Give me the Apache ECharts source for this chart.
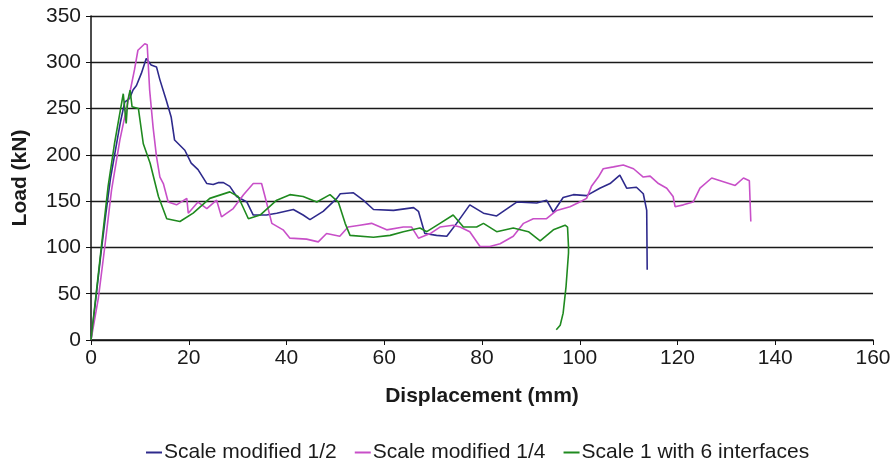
<!DOCTYPE html>
<html>
<head>
<meta charset="utf-8">
<script src="https://cdn.jsdelivr.net/npm/echarts@6/dist/echarts.min.js"></script>
<style>
    html, body { margin: 0; padding: 0; background: #fff; }
    #chart { width: 894px; height: 462px; }
</style>
</head>
<body>
<div id="chart"></div>
<script>
    // values
    var seriesNames = ['Scale modified 1/2', 'Scale modified 1/4', 'Scale 1 with 6 interfaces'];

    var halfX = [0, 1, 2, 3, 4, 5, 6, 6.9, 7.9, 8.6, 9.3, 10.3, 11.3, 12.3, 13.4, 14.1, 15.4, 16.4, 17.1, 19.2, 20.5, 21.9, 23.7, 25, 26, 27.1, 28.4, 29.8, 31.9, 33.2, 35.9, 38, 41.4, 43.4, 44.8, 47.5, 50.3, 51, 53.7, 55.7, 57.8, 61.9, 66, 67, 68.3, 70.7, 72.8, 74.8, 77.5, 80.3, 83, 87.1, 91.2, 93.2, 94.6, 96.6, 98.7, 101.4, 104.1, 106.2, 108.2, 109.6, 111.6, 113, 113.7, 113.8];
    var halfY = [0, 45, 92, 135, 175, 205, 235, 257, 261, 270, 275, 288, 304, 297, 295, 281, 259, 241, 216, 205, 191, 184, 169, 168, 170, 170, 166, 155, 149, 135, 135, 137, 141, 135, 130, 139, 153, 158, 159, 151, 141, 140, 143, 139, 115, 113, 112, 126, 146, 137, 134, 149, 148, 151, 138, 154, 157, 156, 164, 169, 178, 164, 165, 158, 140, 76];

    var quarterX = [0, 1.5, 2.9, 4.2, 5.9, 7.9, 8.9, 9.6, 11, 11.5, 11.7, 12, 12.7, 13.4, 14.1, 14.8, 15.8, 17.5, 19.6, 19.9, 21.9, 23.7, 25.7, 26.7, 29.1, 31.2, 33.2, 34.9, 35.6, 37, 39.3, 40.7, 44.1, 46.5, 48.2, 50.9, 52.6, 55, 57.4, 60.5, 63.9, 65.6, 67, 69.4, 71.4, 74.1, 75.5, 77.5, 79.6, 81.6, 83.7, 86.4, 88.5, 90.5, 93.2, 95.3, 98, 100, 101.4, 102.4, 103.8, 104.8, 106.9, 108.9, 111, 113, 114.4, 116.1, 117.8, 119.1, 119.5, 121.2, 123.2, 124.6, 127, 129.4, 131.8, 133.5, 134.7, 135];
    var quarterY = [0, 45, 104, 162, 216, 266, 292, 313, 320, 319, 299, 270, 230, 198, 176, 169, 149, 146, 153, 137, 149, 142, 151, 133, 142, 157, 169, 169, 155, 126, 119, 110, 109, 106, 115, 112, 122, 124, 126, 119, 122, 122, 110, 115, 122, 124, 122, 117, 101, 101, 104, 112, 126, 131, 131, 140, 144, 149, 153, 166, 176, 185, 187, 189, 185, 176, 177, 169, 164, 155, 144, 146, 149, 164, 175, 171, 167, 175, 172, 128];

    var fullX = [0, 2, 3.5, 4.8, 5.9, 6.6, 7.2, 7.5, 8, 8.4, 9.7, 10.7, 12.1, 13.8, 15.5, 18.2, 20.9, 24.3, 28.4, 30.1, 32.2, 34.6, 38, 40.7, 43.4, 46.2, 48.9, 50.6, 52, 53, 57.8, 61.2, 63.9, 67.3, 68.7, 71.4, 74.1, 76.2, 78.9, 80.3, 83, 86.4, 89.5, 91.9, 94.6, 97, 97.5, 97.7, 97.7, 97.2, 96.6, 96, 95.2];
    var fullY = [0, 95, 166, 212, 245, 266, 234, 258, 270, 252, 250, 212, 191, 155, 131, 128, 137, 153, 160, 155, 131, 135, 151, 157, 155, 149, 157, 149, 126, 113, 111, 113, 117, 121, 117, 126, 135, 122, 122, 126, 117, 121, 117, 107, 119, 124, 122, 101, 94, 58, 29, 16, 11];

    var colors = ['#2e2a8c', '#c84fc8', '#1f8a1f'];

    function pairs(xs, ys) {
        return xs.map(function (x, i) { return [x, ys[i]]; });
    }

    var font = 'Liberation Sans, Arial, sans-serif';
    var chart = echarts.init(document.getElementById('chart'));

    var option = {
        animation: false,
        color: colors,
        grid: { left: 91, right: 21, top: 16, bottom: 122 },
        legend: {
            top: 437,
            left: 141,
            itemWidth: 16,
            itemHeight: 2,
            itemGap: 18,
            icon: 'rect',
            textStyle: { fontFamily: font, fontSize: 21, color: '#1a1a1a', padding: [0, 0, 0, -3] },
            data: seriesNames
        },
        xAxis: {
            type: 'value',
            min: 0,
            max: 160,
            interval: 20,
            name: 'Displacement (mm)',
            nameLocation: 'middle',
            nameGap: 46,
            nameTextStyle: { fontFamily: font, fontSize: 21, fontWeight: 'bold', color: '#1a1a1a' },
            axisLine: { lineStyle: { color: '#111', width: 1.5 } },
            axisTick: { show: true, length: 5, lineStyle: { color: '#111' } },
            axisLabel: { fontFamily: font, fontSize: 21, color: '#1a1a1a', margin: 8 },
            splitLine: { show: false }
        },
        yAxis: {
            type: 'value',
            min: 0,
            max: 350,
            interval: 50,
            name: 'Load (kN)',
            nameLocation: 'middle',
            nameGap: 60,
            nameTextStyle: { fontFamily: font, fontSize: 21, fontWeight: 'bold', color: '#1a1a1a' },
            axisLine: { show: true, lineStyle: { color: '#111', width: 1.5 } },
            axisTick: { show: true, length: 5, lineStyle: { color: '#111' } },
            axisLabel: { fontFamily: font, fontSize: 21, color: '#1a1a1a', margin: 10 },
            splitLine: { lineStyle: { color: '#1a1a1a', width: 1.3 } }
        },
        series: [
            { name: seriesNames[0], type: 'line', symbol: 'none', data: pairs(halfX, halfY), lineStyle: { width: 1.6 } },
            { name: seriesNames[1], type: 'line', symbol: 'none', data: pairs(quarterX, quarterY), lineStyle: { width: 1.6 } },
            { name: seriesNames[2], type: 'line', symbol: 'none', data: pairs(fullX, fullY), lineStyle: { width: 1.6 } }
        ]
    };

    chart.setOption(option);
</script>
</body>
</html>
